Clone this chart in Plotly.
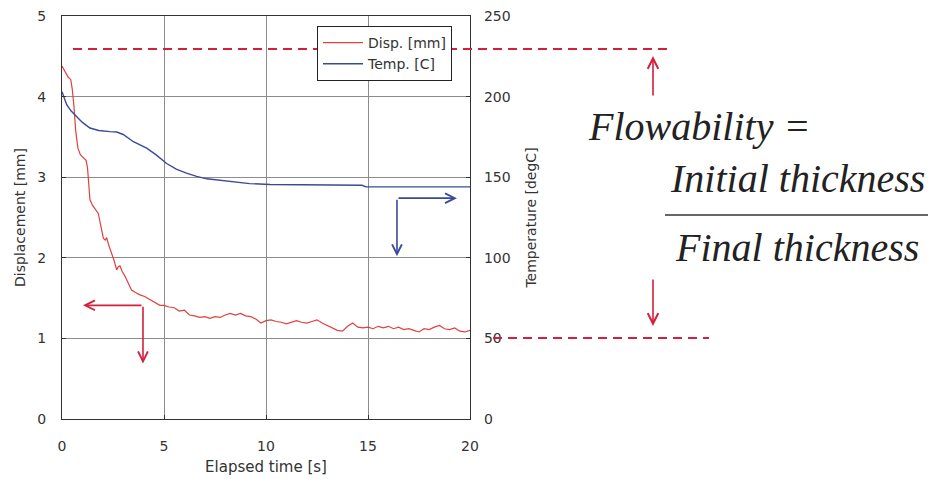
import plotly.graph_objects as go

# ---------------- data ----------------
time_disp = [0, 0.08, 0.15, 0.31, 0.43, 0.5, 0.58, 0.67, 0.78, 0.9, 1.0, 1.1, 1.18, 1.25, 1.3,
             1.37, 1.5, 1.65, 1.78, 1.9, 2.03, 2.12, 2.19, 2.3, 2.44, 2.55, 2.68, 2.76, 2.84, 2.95,
             3.09, 3.25, 3.41, 3.6, 3.82, 4.05, 4.31, 4.55, 4.8,
             5.0, 5.25, 5.5, 5.75, 6.0, 6.25, 6.5, 6.75, 7.0, 7.25, 7.5, 7.75, 8.0, 8.25, 8.5,
             8.75, 9.0, 9.25, 9.5, 9.75, 10.0, 10.25, 10.5, 10.75, 11.0, 11.25, 11.5, 11.75,
             12.0, 12.25, 12.5, 12.75, 13.0, 13.25, 13.5, 13.75, 14.0, 14.25, 14.5, 14.75,
             15.0, 15.25, 15.5, 15.75, 16.0, 16.25, 16.5, 16.75, 17.0, 17.25, 17.5, 17.75,
             18.0, 18.25, 18.5, 18.75, 19.0, 19.25, 19.5, 19.75, 20.0]
disp_mm = [4.38, 4.33, 4.31, 4.24, 4.21, 4.1, 3.9, 3.58, 3.36, 3.28, 3.25, 3.23, 3.21, 3.12, 2.95,
           2.72, 2.65, 2.6, 2.55, 2.4, 2.24, 2.22, 2.25, 2.15, 2.06, 1.97, 1.85, 1.89, 1.9, 1.83,
           1.77, 1.68, 1.6, 1.57, 1.54, 1.52, 1.48, 1.45, 1.41,
           1.41, 1.39, 1.38, 1.34, 1.35, 1.29, 1.28, 1.26, 1.27, 1.25, 1.27, 1.26, 1.29, 1.31, 1.29,
           1.31, 1.28, 1.27, 1.24, 1.19, 1.22, 1.23, 1.21, 1.2, 1.18, 1.2, 1.22, 1.2,
           1.19, 1.21, 1.23, 1.19, 1.16, 1.14, 1.1, 1.09, 1.15, 1.19, 1.14, 1.13,
           1.14, 1.12, 1.15, 1.13, 1.15, 1.12, 1.14, 1.11, 1.12, 1.1, 1.08, 1.12,
           1.11, 1.14, 1.16, 1.12, 1.11, 1.13, 1.09, 1.08, 1.1]

time_temp = [0, 0.1, 0.23, 0.45, 0.72, 1.0, 1.37, 1.8, 2.35, 2.68, 3.0, 3.5, 4.15, 4.6, 5.13,
             5.6, 6.1, 6.6, 7.1, 7.8, 8.4, 9.2, 10.2, 11.5, 13, 14.7, 14.9, 16, 18, 20]
temp_c = [203, 200, 195, 191, 187.5, 184, 180.5, 179, 178.3, 178, 176.5, 172, 168, 164, 158.5,
          155, 152.5, 150.5, 149, 148, 147, 146, 145.5, 145.3, 145.2, 145, 144, 144, 144, 144]

series_names = ["Disp. [mm]", "Temp. [C]"]
x_ticks = [0, 5, 10, 15, 20]
y_ticks = [0, 1, 2, 3, 4, 5]
y2_ticks = [0, 50, 100, 150, 200, 250]

# ---------------- style ----------------
RED = "#e0413f"
BLUE = "#3b4a96"
DASH_RED = "#d3203c"
AX = "#333333"
GRID = "#8c8c8c"
FONT = "DejaVu Sans"

# canvas / plot-area geometry (pixels)
W, H = 936, 479
PL, PR, PT, PB = 62, 470, 16, 419


def px(xp):
    return (xp - PL) / (PR - PL)


def py(yp):
    return (PB - yp) / (PB - PT)


fig = go.Figure()
fig.add_trace(go.Scatter(x=time_disp, y=disp_mm, name=series_names[0], mode="lines",
                         line=dict(color=RED, width=1.2)))
fig.add_trace(go.Scatter(x=time_temp, y=temp_c, name=series_names[1], mode="lines",
                         line=dict(color=BLUE, width=1.4), yaxis="y2"))

axis_common = dict(showline=True, linecolor=AX, linewidth=1.3, ticks="inside", ticklen=4,
                   tickcolor=AX, tickfont=dict(family=FONT, size=14, color="#333"),
                   zeroline=False)

fig.update_layout(
    width=W, height=H,
    margin=dict(l=PL, r=W - PR, t=PT, b=H - PB, autoexpand=False),
    paper_bgcolor="white", plot_bgcolor="white",
    showlegend=True,
    legend=dict(x=px(317), y=py(26), xanchor="left", yanchor="top",
                bordercolor="#222", borderwidth=1, bgcolor="white",
                font=dict(family=FONT, size=14, color="#333"),
                tracegroupgap=0, itemwidth=40),
    xaxis=dict(range=[0, 20], tickvals=x_ticks, showgrid=True, gridcolor=GRID, gridwidth=1,
               mirror=True, ticklabelstandoff=14,
               title=dict(text="Elapsed time [s]", font=dict(family=FONT, size=15, color="#333"),
                          standoff=8),
               **axis_common),
    yaxis=dict(range=[0, 5], tickvals=y_ticks, showgrid=True, gridcolor=GRID, gridwidth=1,
               ticklabelstandoff=12,
               title=dict(text="Displacement [mm]", font=dict(family=FONT, size=14, color="#333"),
                          standoff=8),
               **axis_common),
    yaxis2=dict(range=[0, 250], tickvals=y2_ticks, overlaying="y", side="right",
                showgrid=False, ticklabelstandoff=10,
                title=dict(text="Temperature [degC]", font=dict(family=FONT, size=14, color="#333"),
                           standoff=16),
                **axis_common),
)

# dashed reference lines (initial / final thickness)
fig.add_shape(type="line", xref="paper", yref="paper", x0=px(73), x1=px(668), y0=py(49), y1=py(49),
              line=dict(color=DASH_RED, width=2, dash="9px,6px"), layer="above")
fig.add_shape(type="line", xref="paper", yref="paper", x0=px(493), x1=px(709), y0=py(338), y1=py(338),
              line=dict(color=DASH_RED, width=2, dash="9px,6px"), layer="above")

# vertical arrows beside the formula
fig.add_annotation(xref="paper", yref="paper", x=px(653), y=py(56), ax=0, ay=41, text="",
                   showarrow=True, arrowhead=5, arrowsize=1.3, arrowwidth=1.6, arrowcolor=DASH_RED)
fig.add_annotation(xref="paper", yref="paper", x=px(653), y=py(326), ax=0, ay=-48, text="",
                   showarrow=True, arrowhead=5, arrowsize=1.3, arrowwidth=1.6, arrowcolor=DASH_RED)

# L-shaped axis indicator arrows (data coordinates)
fig.add_annotation(xref="x", yref="y", axref="x", ayref="y", x=1.03, y=1.41, ax=3.97, ay=1.41,
                   text="", showarrow=True, arrowhead=5, arrowsize=1.2, arrowwidth=1.6, arrowcolor=DASH_RED)
fig.add_annotation(xref="x", yref="y", axref="x", ayref="y", x=3.97, y=0.69, ax=3.97, ay=1.41,
                   text="", showarrow=True, arrowhead=5, arrowsize=1.2, arrowwidth=1.6, arrowcolor=DASH_RED)
fig.add_annotation(xref="x", yref="y", axref="x", ayref="y", x=19.36, y=2.74, ax=16.42, ay=2.74,
                   text="", showarrow=True, arrowhead=5, arrowsize=1.2, arrowwidth=1.6, arrowcolor=BLUE)
fig.add_annotation(xref="x", yref="y", axref="x", ayref="y", x=16.42, y=2.02, ax=16.42, ay=2.74,
                   text="", showarrow=True, arrowhead=5, arrowsize=1.2, arrowwidth=1.6, arrowcolor=BLUE)

# formula
SERIF = "Liberation Serif"
fig.add_annotation(xref="paper", yref="paper", x=px(586), y=py(126), xanchor="left", yanchor="middle",
                   text="<i>Flowability =</i>", showarrow=False,
                   font=dict(family=SERIF, size=40, color="#222"))
fig.add_annotation(xref="paper", yref="paper", x=px(797), y=py(178), xanchor="center", yanchor="middle",
                   text="<i>Initial thickness</i>", showarrow=False,
                   font=dict(family=SERIF, size=40, color="#222"))
fig.add_annotation(xref="paper", yref="paper", x=px(797), y=py(247), xanchor="center", yanchor="middle",
                   text="<i>Final thickness</i>", showarrow=False,
                   font=dict(family=SERIF, size=40, color="#222"))
fig.add_shape(type="line", xref="paper", yref="paper", x0=px(665), x1=px(928), y0=py(215), y1=py(215),
              line=dict(color="#333", width=1.5))

fig.write_html("out.html")
